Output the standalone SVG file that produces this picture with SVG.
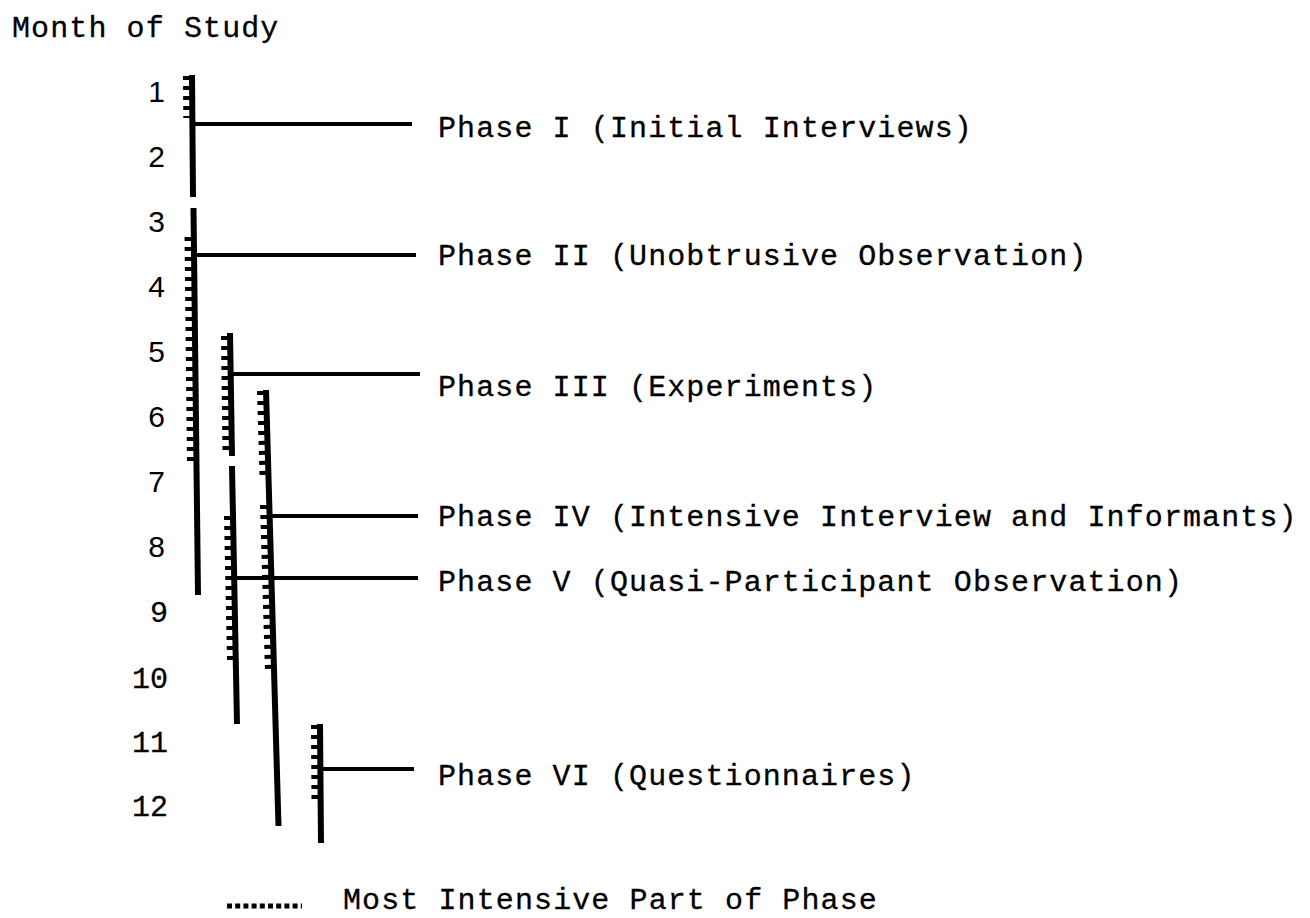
<svg xmlns="http://www.w3.org/2000/svg" width="1310" height="918" viewBox="0 0 1310 918">
  <style>
    .t { font-family: "Liberation Mono", "Courier New", monospace; font-size: 30px; letter-spacing: 1.1px; fill: #000; stroke: #000; stroke-width: 0.3; }
    .n { font-family: "Liberation Sans", Arial, sans-serif; font-size: 30px; fill: #000; text-anchor: end; }
    .nm { font-family: "Liberation Mono", "Courier New", monospace; font-size: 30px; fill: #000; stroke: #000; stroke-width: 0.3; text-anchor: end; }
    .bar { stroke: #000; stroke-width: 6; stroke-linecap: butt; fill: none; }
    .lead { stroke: #000; stroke-width: 4; fill: none; }
    .hatch { stroke: #000; stroke-width: 7; stroke-dasharray: 4 6; fill: none; }
    .dots { stroke: #000; stroke-width: 5; stroke-dasharray: 5 3.2; fill: none; }
  </style>
  <rect width="1310" height="918" fill="#fff"/>

  <text class="t" x="12" y="37">Month of Study</text>

  <!-- month axis -->
  <g id="months">
    <text class="n" x="165" y="102">1</text>
    <text class="n" x="165" y="167">2</text>
    <text class="n" x="165" y="232">3</text>
    <text class="n" x="165" y="297">4</text>
    <text class="n" x="165" y="362">5</text>
    <text class="n" x="165" y="427">6</text>
    <text class="n" x="165" y="492">7</text>
    <text class="n" x="165" y="557">8</text>
    <text class="nm" x="168" y="622">9</text>
    <text class="nm" x="168" y="688">10</text>
    <text class="nm" x="168" y="752">11</text>
    <text class="nm" x="168" y="816">12</text>
  </g>

  <!-- phase bars with their intensive stretches -->
  <g id="phase1">
    <line class="bar" x1="192" y1="75" x2="193" y2="197"/>
    <line class="hatch" x1="186.5" y1="76" x2="186.8" y2="118"/>
  </g>
  <g id="phase2">
    <line class="bar" x1="193.5" y1="208" x2="198" y2="595"/>
    <line class="hatch" x1="188" y1="237" x2="190.5" y2="466"/>
  </g>
  <g id="phase3">
    <line class="bar" x1="230" y1="333" x2="232" y2="456"/>
    <line class="hatch" x1="224.5" y1="336" x2="226" y2="451"/>
  </g>
  <g id="phase4">
    <line class="bar" x1="266" y1="390" x2="278.5" y2="826"/>
    <line class="hatch" x1="260.5" y1="391" x2="263" y2="475"/>
    <line class="hatch" x1="263.5" y1="505" x2="268.5" y2="672"/>
  </g>
  <g id="phase5">
    <line class="bar" x1="232" y1="466" x2="237" y2="724"/>
    <line class="hatch" x1="227.5" y1="516" x2="230.5" y2="660"/>
  </g>
  <g id="phase6">
    <line class="bar" x1="320" y1="724" x2="321" y2="843"/>
    <line class="hatch" x1="314.5" y1="725" x2="315" y2="800"/>
  </g>

  <!-- leaders from bars to labels -->
  <g id="connectors">
    <line class="lead" x1="193" y1="124" x2="412" y2="124"/>
    <line class="lead" x1="195" y1="255" x2="416" y2="255"/>
    <line class="lead" x1="232" y1="374" x2="420" y2="374"/>
    <line class="lead" x1="271" y1="516" x2="418" y2="516"/>
    <line class="lead" x1="235" y1="578" x2="418" y2="578"/>
    <line class="lead" x1="322" y1="769" x2="414" y2="769"/>
  </g>

  <!-- phase labels -->
  <g id="labels">
    <text class="t" x="438" y="137">Phase I (Initial Interviews)</text>
    <text class="t" x="438" y="265">Phase II (Unobtrusive Observation)</text>
    <text class="t" x="438" y="396">Phase III (Experiments)</text>
    <text class="t" x="438" y="526">Phase IV (Intensive Interview and Informants)</text>
    <text class="t" x="438" y="591">Phase V (Quasi-Participant Observation)</text>
    <text class="t" x="438" y="785">Phase VI (Questionnaires)</text>
  </g>

  <!-- key -->
  <g id="legend">
    <line class="dots" x1="227" y1="906" x2="302" y2="906"/>
    <text class="t" x="343" y="909">Most Intensive Part of Phase</text>
  </g>
</svg>
